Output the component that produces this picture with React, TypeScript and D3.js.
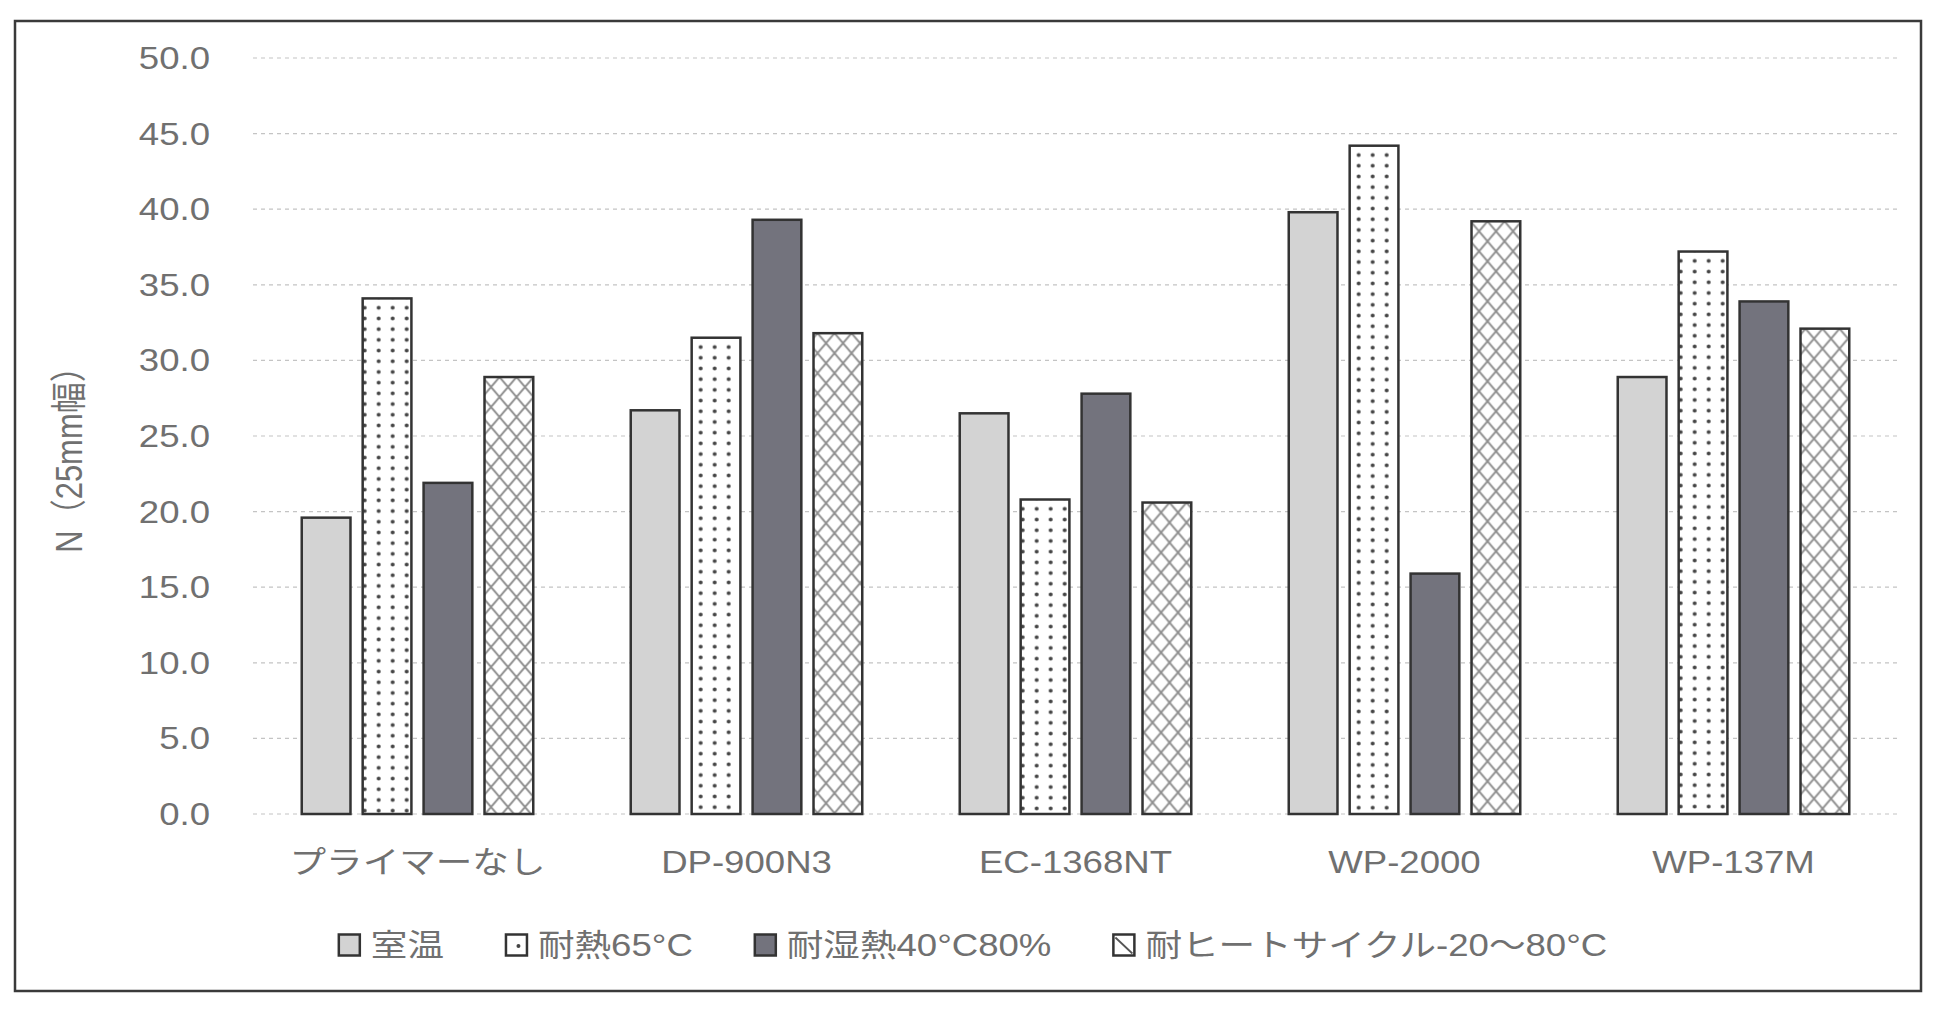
import * as React from 'react';
import * as d3 from 'd3';

const categories = ['プライマーなし', 'DP-900N3', 'EC-1368NT', 'WP-2000', 'WP-137M'];
const seriesNames = ['室温', '耐熱65°C', '耐湿熱40°C80%', '耐ヒートサイクル-20〜80°C'];

const roomTemp = [19.6, 26.7, 26.5, 39.8, 28.9];
const heat65 = [34.1, 31.5, 20.8, 44.2, 37.2];
const humidHeat = [21.9, 39.3, 27.8, 15.9, 33.9];
const heatCycle = [28.9, 31.8, 20.6, 39.2, 32.1];

const yTicks = [0, 5, 10, 15, 20, 25, 30, 35, 40, 45, 50];
const yTitle = 'N（25mm幅）';

const W = 1935;
const H = 1014;
const TEXT = '#707070';
const EDGE = '#333';
const FONT = '"Liberation Sans", Arial, "Noto Sans CJK JP", sans-serif';
const SX = 1.18; // picture is stretched sideways

export default class App extends React.Component<{}, {}> {
    private ref = React.createRef<SVGSVGElement>();

    public render() {
        return (
            <div style={{ position: 'absolute', left: 0, top: 0 }}>
                <svg ref={this.ref} width={W} height={H} style={{ display: 'block', background: '#fff' }}></svg>
            </div>
        );
    }

    public componentDidMount(): void {
        this.draw();
    }

    private draw(): void {
        const svg = d3.select(this.ref.current);
        svg.selectAll('*').remove();

        const series = [roomTemp, heat65, humidHeat, heatCycle];
        const margin = { left: 253, right: 1898, top: 58, bottom: 814 };

        const x0 = d3.scaleBand<string>().domain(categories).range([margin.left, margin.right]);
        const x1 = d3.scaleBand<string>().domain(seriesNames)
            .range([0, x0.bandwidth()]).paddingInner(0.2).paddingOuter(0.8);
        const y = d3.scaleLinear().domain([0, 50]).range([margin.bottom, margin.top]);

        const defs = svg.append('defs');

        // frame
        svg.append('rect')
            .attr('x', 15).attr('y', 21).attr('width', 1906).attr('height', 970)
            .attr('fill', '#fff').attr('stroke', '#3a3a3a').attr('stroke-width', 2.5);

        // gridlines
        svg.append('g').selectAll('line')
            .data(yTicks)
            .enter().append('line')
            .attr('x1', margin.left).attr('x2', margin.right)
            .attr('y1', d => y(d)).attr('y2', d => y(d))
            .attr('stroke', '#c4c4c4').attr('stroke-width', 1.2)
            .attr('stroke-dasharray', '4,4');

        // y tick labels
        svg.append('g').selectAll('text')
            .data(yTicks)
            .enter().append('text')
            .attr('transform', d => `translate(210,${y(d) + 11}) scale(${SX},1)`)
            .attr('text-anchor', 'end')
            .attr('font-family', FONT).attr('font-size', 31).attr('fill', TEXT)
            .text(d => d.toFixed(1));

        // y title
        svg.append('text')
            .attr('transform', `translate(82,452) scale(${SX},1) rotate(-90)`)
            .attr('text-anchor', 'middle')
            .attr('font-family', FONT).attr('font-size', 31).attr('fill', TEXT)
            .text(yTitle);

        // patterns for each bar (kept aligned to the bar)
        const makeDots = (id: string, bx: number, by: number) => {
            const sx = 14, sy = 10.7;
            const p = defs.append('pattern').attr('id', id)
                .attr('patternUnits', 'userSpaceOnUse')
                .attr('x', bx + 1 - sx / 2).attr('y', by + 4)
                .attr('width', sx).attr('height', sy);
            p.append('rect').attr('width', sx).attr('height', sy).attr('fill', '#fff');
            p.append('circle').attr('cx', sx / 2).attr('cy', sy / 2).attr('r', 2).attr('fill', '#444');
        };
        const makeCross = (id: string, bx: number, by: number) => {
            const sx = 17, sy = 20;
            const p = defs.append('pattern').attr('id', id)
                .attr('patternUnits', 'userSpaceOnUse')
                .attr('x', bx).attr('y', by)
                .attr('width', sx).attr('height', sy);
            p.append('rect').attr('width', sx).attr('height', sy).attr('fill', '#fff');
            p.append('path')
                .attr('d', `M0,0L${sx},${sy}M${sx},0L0,${sy}`)
                .attr('stroke', '#8e8e8e').attr('stroke-width', 1.9);
        };

        const fillFor = (j: number, i: number, bx: number, by: number): string => {
            if (j === 0) return '#d3d3d3';
            if (j === 2) return '#73737d';
            const id = (j === 1 ? 'dots' : 'cross') + '-' + i;
            if (j === 1) makeDots(id, bx, by); else makeCross(id, bx, by);
            return `url(#${id})`;
        };

        // bars
        const groups = svg.append('g').selectAll('g')
            .data(categories)
            .enter().append('g')
            .attr('transform', d => `translate(${x0(d)},0)`);

        groups.each(function (cat, i) {
            const g = d3.select(this);
            seriesNames.forEach((name, j) => {
                const v = series[j][i];
                const bx = (x0(cat) as number) + (x1(name) as number);
                g.append('rect')
                    .attr('x', x1(name) as number)
                    .attr('y', y(v))
                    .attr('width', x1.bandwidth())
                    .attr('height', y(0) - y(v))
                    .attr('fill', fillFor(j, i, bx, y(v)))
                    .attr('stroke', EDGE).attr('stroke-width', 2.5);
            });
        });

        // category labels
        svg.append('g').selectAll('text')
            .data(categories)
            .enter().append('text')
            .attr('transform', d => `translate(${(x0(d) as number) + x0.bandwidth() / 2},873) scale(${SX},1)`)
            .attr('text-anchor', 'middle')
            .attr('font-family', FONT).attr('font-size', 31).attr('fill', TEXT)
            .text(d => d);

        // legend: laid out in a row, then centred
        const legend = svg.append('g');
        const box = 21;
        let cursor = 0;
        seriesNames.forEach((name, j) => {
            const item = legend.append('g').attr('transform', `translate(${cursor},0)`);
            item.append('rect')
                .attr('x', 0).attr('y', -box / 2).attr('width', box).attr('height', box)
                .attr('fill', j === 0 ? '#d3d3d3' : j === 2 ? '#73737d' : '#fff')
                .attr('stroke', EDGE).attr('stroke-width', 2.5);
            if (j === 1) {
                item.append('circle').attr('cx', box / 2 + 2).attr('cy', 1).attr('r', 2).attr('fill', '#444');
            }
            if (j === 3) {
                item.append('line')
                    .attr('x1', 2).attr('y1', -box / 2 + 3).attr('x2', box - 2).attr('y2', box / 2 - 2)
                    .attr('stroke', '#555').attr('stroke-width', 1.8);
            }
            const t = item.append('text')
                .attr('transform', `translate(${box + 11},11) scale(${SX},1)`)
                .attr('font-family', FONT).attr('font-size', 31).attr('fill', TEXT)
                .text(name);
            const len = (t.node() as SVGTextElement).getComputedTextLength() * SX;
            cursor += box + 11 + len + 62;
        });
        const total = cursor - 62;
        legend.attr('transform', `translate(${973 - total / 2},945)`);
    }
}
